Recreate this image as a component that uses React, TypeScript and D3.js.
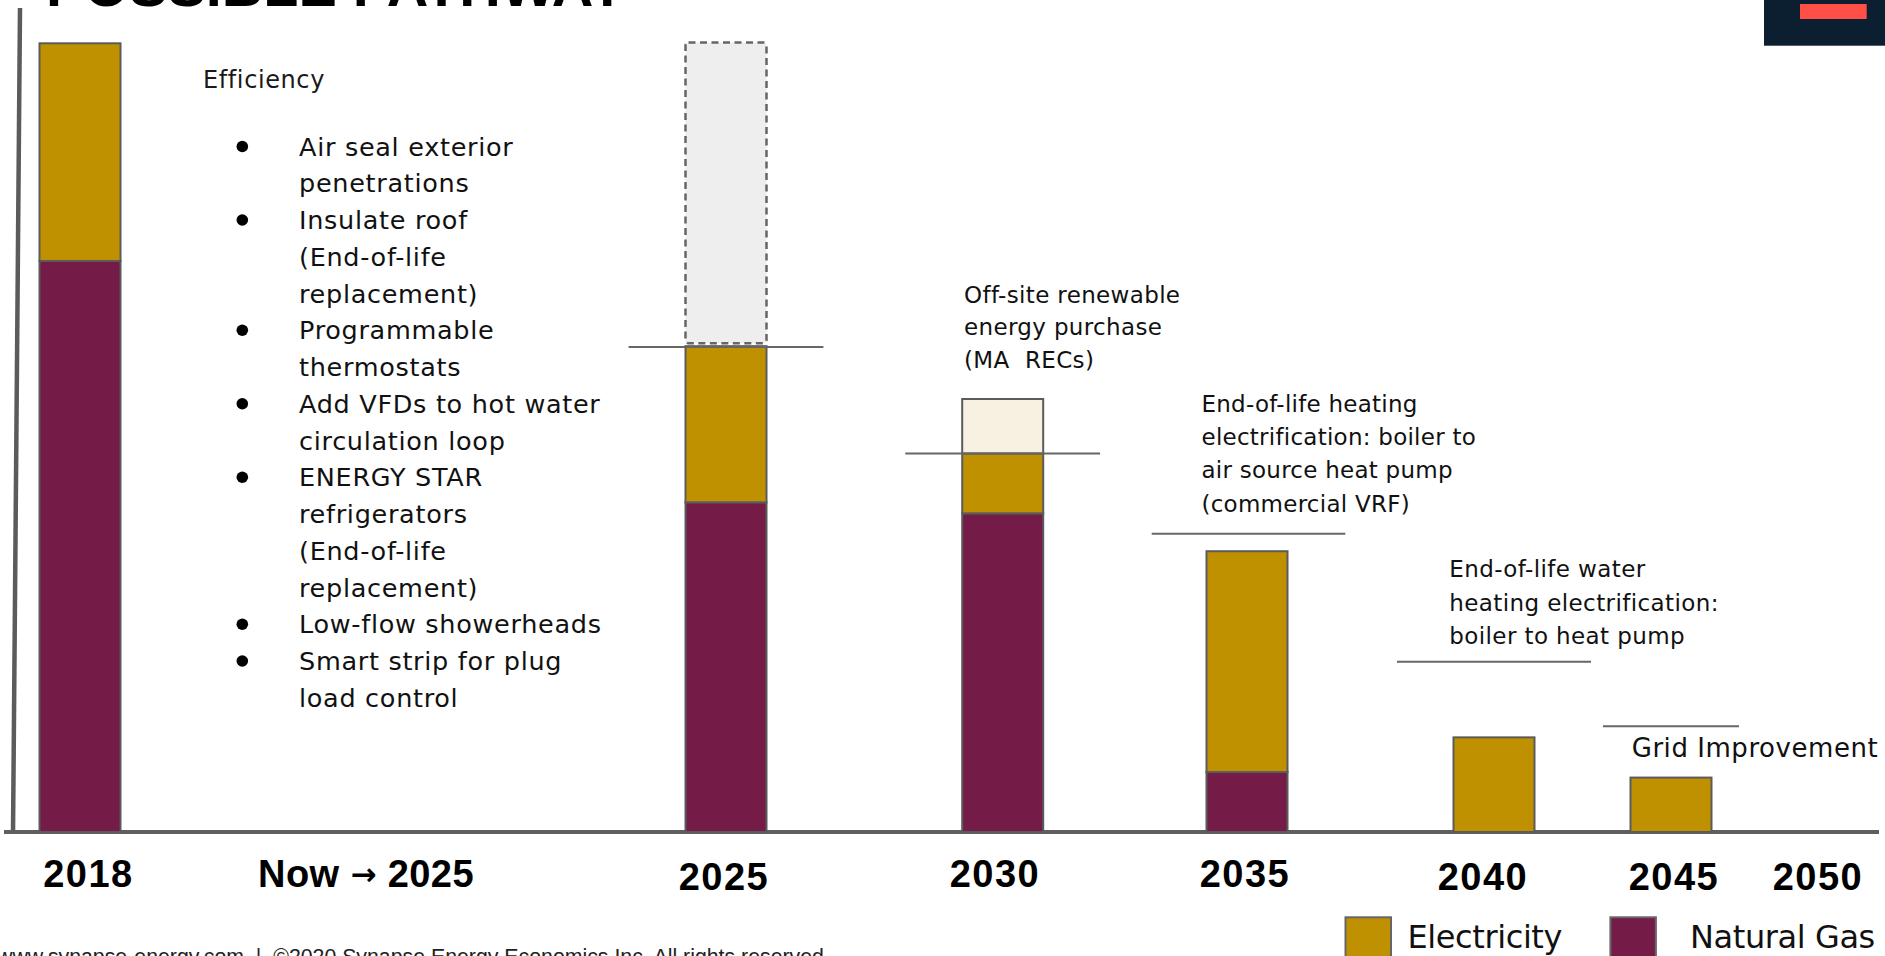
import React from "react";
import * as d3 from "d3";

// ---------- DATA ----------
const barYears = ["2018", "2025", "2030", "2035", "2040", "2045"];
const naturalGas = [72.4, 41.8, 40.4, 7.6, 0, 0];
const electricity = [27.6, 19.8, 7.6, 28.0, 12.0, 6.9];
const offsiteRecs = [0, 0, 6.9, 0, 0, 0];
const efficiencySavings = [0, 38.5, 0, 0, 0, 0];

const axisLabels = ["2018", "Now \u2192 2025", "2025", "2030", "2035", "2040", "2045", "2050"];

const stepYears = ["2025", "2030", "2035", "2040", "2045"];
const stepLevels = [61.5, 48.0, 37.8, 21.6, 13.4];

const titleText = "POSSIBLE PATHWAY";
const efficiencyTitle = "Efficiency";
const efficiencyMeasures = [
  ["Air seal exterior", "penetrations"],
  ["Insulate roof", "(End-of-life", "replacement)"],
  ["Programmable", "thermostats"],
  ["Add VFDs to hot water", "circulation loop"],
  ["ENERGY STAR", "refrigerators", "(End-of-life", "replacement)"],
  ["Low-flow showerheads"],
  ["Smart strip for plug", "load control"],
];
const recNote = ["Off-site renewable", "energy purchase", "(MA  RECs)"];
const heatingNote = ["End-of-life heating", "electrification: boiler to", "air source heat pump", "(commercial VRF)"];
const waterNote = ["End-of-life water", "heating electrification:", "boiler to heat pump"];
const gridNote = ["Grid Improvement"];
const legendLabels = ["Electricity", "Natural Gas"];
const footerText = "www.synapse-energy.com  |  \u00A92020 Synapse Energy Economics Inc. All rights reserved.";

// ---------- LAYOUT / STYLE ----------
const W = 1885;
const H = 956;
const keys = ["naturalGas", "electricity", "offsiteRecs", "efficiencySavings"];
const fills: Record<string, string> = {
  naturalGas: "#741b47",
  electricity: "#bf9000",
  offsiteRecs: "#f7f1e1",
  efficiencySavings: "#eeeeee",
};
const barCenters = [80, 726, 1002.7, 1247, 1494, 1671];
const labelCenters = [88.4, 366, 724, 995, 1245, 1483, 1674, 1818];
const labelBaselines = [887, 887, 890, 887, 887, 890, 890, 890];
const stepHalf = [97.4, 97.4, 96.8, 97, 68];
const stepCenters = [726, 1002.7, 1248.5, 1494, 1671];
const BAR_W = 81;
const BODY_FONT = "'DejaVu Sans', sans-serif";
const BOLD_FONT = "'Liberation Sans', Arial, sans-serif";

export default function App() {
  const table = barYears.map((yr, i) => ({
    year: yr,
    naturalGas: naturalGas[i],
    electricity: electricity[i],
    offsiteRecs: offsiteRecs[i],
    efficiencySavings: efficiencySavings[i],
  }));
  const stack = d3.stack<any>().keys(keys);
  const series = stack(table);

  const y = d3.scaleLinear().domain([0, 100]).range([832, 43.3]);
  const xBar = d3.scaleOrdinal<string, number>().domain(barYears).range(barCenters);
  const xLabel = d3.scaleOrdinal<string, number>().domain(axisLabels).range(labelCenters);
  const xStep = d3.scaleOrdinal<string, number>().domain(stepYears).range(stepCenters);

  const bulletLines: { text: string; bullet: boolean }[] = [];
  efficiencyMeasures.forEach((m) => m.forEach((t, j) => bulletLines.push({ text: t, bullet: j === 0 })));

  const note = (lines: string[], x: number, y0: number, step: number, size: number, ls: number, key: string) =>
    lines.map((t, i) => (
      <text
        key={key + i}
        x={x}
        y={y0 + i * step}
        fontFamily={BODY_FONT}
        fontSize={size}
        letterSpacing={ls}
        fill="#111"
        style={{ whiteSpace: "pre" }}
      >
        {t}
      </text>
    ));

  const renderLabel = (lab: string) => {
    const parts = lab.split("\u2192");
    if (parts.length === 1) return lab;
    return (
      <>
        {parts[0]}
        <tspan fontSize={31} fontFamily={BODY_FONT} dy={-2}>{"\u2192"}</tspan>
        <tspan dy={2}>{parts[1]}</tspan>
      </>
    );
  };

  return (
    <svg
      width={W}
      height={H}
      viewBox={`0 0 ${W} ${H}`}
      style={{ position: "absolute", left: 0, top: 0, display: "block", background: "#fff" }}
    >
      <rect x={0} y={0} width={W} height={H} fill="#fff" />
      {/* title (cut off at top) */}
      <text x={46} y={6} fontFamily={BOLD_FONT} fontWeight={700} fontSize={57.5} fill="#000">
        {titleText}
      </text>
      {/* corner decoration */}
      <rect x={1764} y={0} width={121} height={45.7} fill="#0b1f30" />
      <rect x={1800} y={4} width={66.7} height={15} fill="#ff4f46" />

      {/* axes */}
      <line x1={20} y1={8} x2={13} y2={834} stroke="#5b5b5b" strokeWidth={4.5} />
      <line x1={4} y1={y(0)} x2={1879} y2={y(0)} stroke="#5f5f5f" strokeWidth={4} />

      {/* bars */}
      {series.map((s) =>
        s.map((d, i) => {
          const h = y(d[0]) - y(d[1]);
          if (h <= 0) return null;
          const yr = barYears[i];
          const ghost = s.key === "efficiencySavings";
          return (
            <rect
              key={s.key + yr}
              x={(xBar(yr) as number) - BAR_W / 2}
              y={y(d[1])}
              width={BAR_W}
              height={h - (ghost ? 3 : 0)}
              rx={ghost ? 3 : 0}
              fill={fills[s.key]}
              stroke={ghost ? "#666" : "#5b5b5b"}
              strokeWidth={ghost ? 2.5 : 2}
              strokeDasharray={ghost ? "7 4.5" : undefined}
            />
          );
        })
      )}

      {/* step lines */}
      {stepYears.map((yr, i) => (
        <line
          key={"step" + yr}
          x1={(xStep(yr) as number) - stepHalf[i]}
          x2={(xStep(yr) as number) + stepHalf[i]}
          y1={y(stepLevels[i])}
          y2={y(stepLevels[i])}
          stroke="#666"
          strokeWidth={2}
        />
      ))}

      {/* axis labels */}
      {axisLabels.map((lab, i) => (
        <text
          key={"lab" + lab}
          x={xLabel(lab) as number}
          y={labelBaselines[i]}
          textAnchor="middle"
          fontFamily={BOLD_FONT}
          fontWeight={700}
          fontSize={38}
          letterSpacing={lab.length > 4 ? 0.4 : 1.5}
          fill="#000"
        >
          {renderLabel(lab)}
        </text>
      ))}

      {/* efficiency list */}
      <text x={203} y={88.3} fontFamily={BODY_FONT} fontSize={24} letterSpacing={0.6} fill="#1a1a1a">
        {efficiencyTitle}
      </text>
      {bulletLines.map((b, i) => (
        <g key={"bl" + i}>
          {b.bullet && <circle cx={242.3} cy={155.5 + i * 36.75 - 9} r={5.8} fill="#000" />}
          <text
            x={299}
            y={155.5 + i * 36.75}
            fontFamily={BODY_FONT}
            fontSize={25.5}
            letterSpacing={0.7}
            fill="#111"
          >
            {b.text}
          </text>
        </g>
      ))}

      {note(recNote, 964, 302.5, 32.5, 23, 0.35, "rec")}
      {note(heatingNote, 1201.5, 411.7, 33.3, 23, 0.25, "heat")}
      {note(waterNote, 1449.3, 577.3, 33.3, 23, 0.4, "water")}
      {note(gridNote, 1631.7, 756.5, 33, 26, 0.55, "grid")}

      {/* legend */}
      {legendLabels.map((lab, i) => {
        const sx = [1345.5, 1610.4][i];
        const tx = [1407.5, 1690][i];
        return (
          <g key={"leg" + lab}>
            <rect
              x={sx}
              y={917.3}
              width={45.5}
              height={50}
              fill={i === 0 ? fills.electricity : fills.naturalGas}
              stroke="#666"
              strokeWidth={2}
            />
            <text x={tx} y={948.3} fontFamily={BODY_FONT} fontSize={32} letterSpacing={-0.4} fill="#111">
              {lab}
            </text>
          </g>
        );
      })}

      {/* footer */}
      <text
        x={-3}
        y={964}
        fontFamily="'Liberation Sans', Arial, sans-serif"
        fontSize={21.3}
        fill="#222"
        style={{ whiteSpace: "pre" }}
      >
        {footerText}
      </text>
    </svg>
  );
}
